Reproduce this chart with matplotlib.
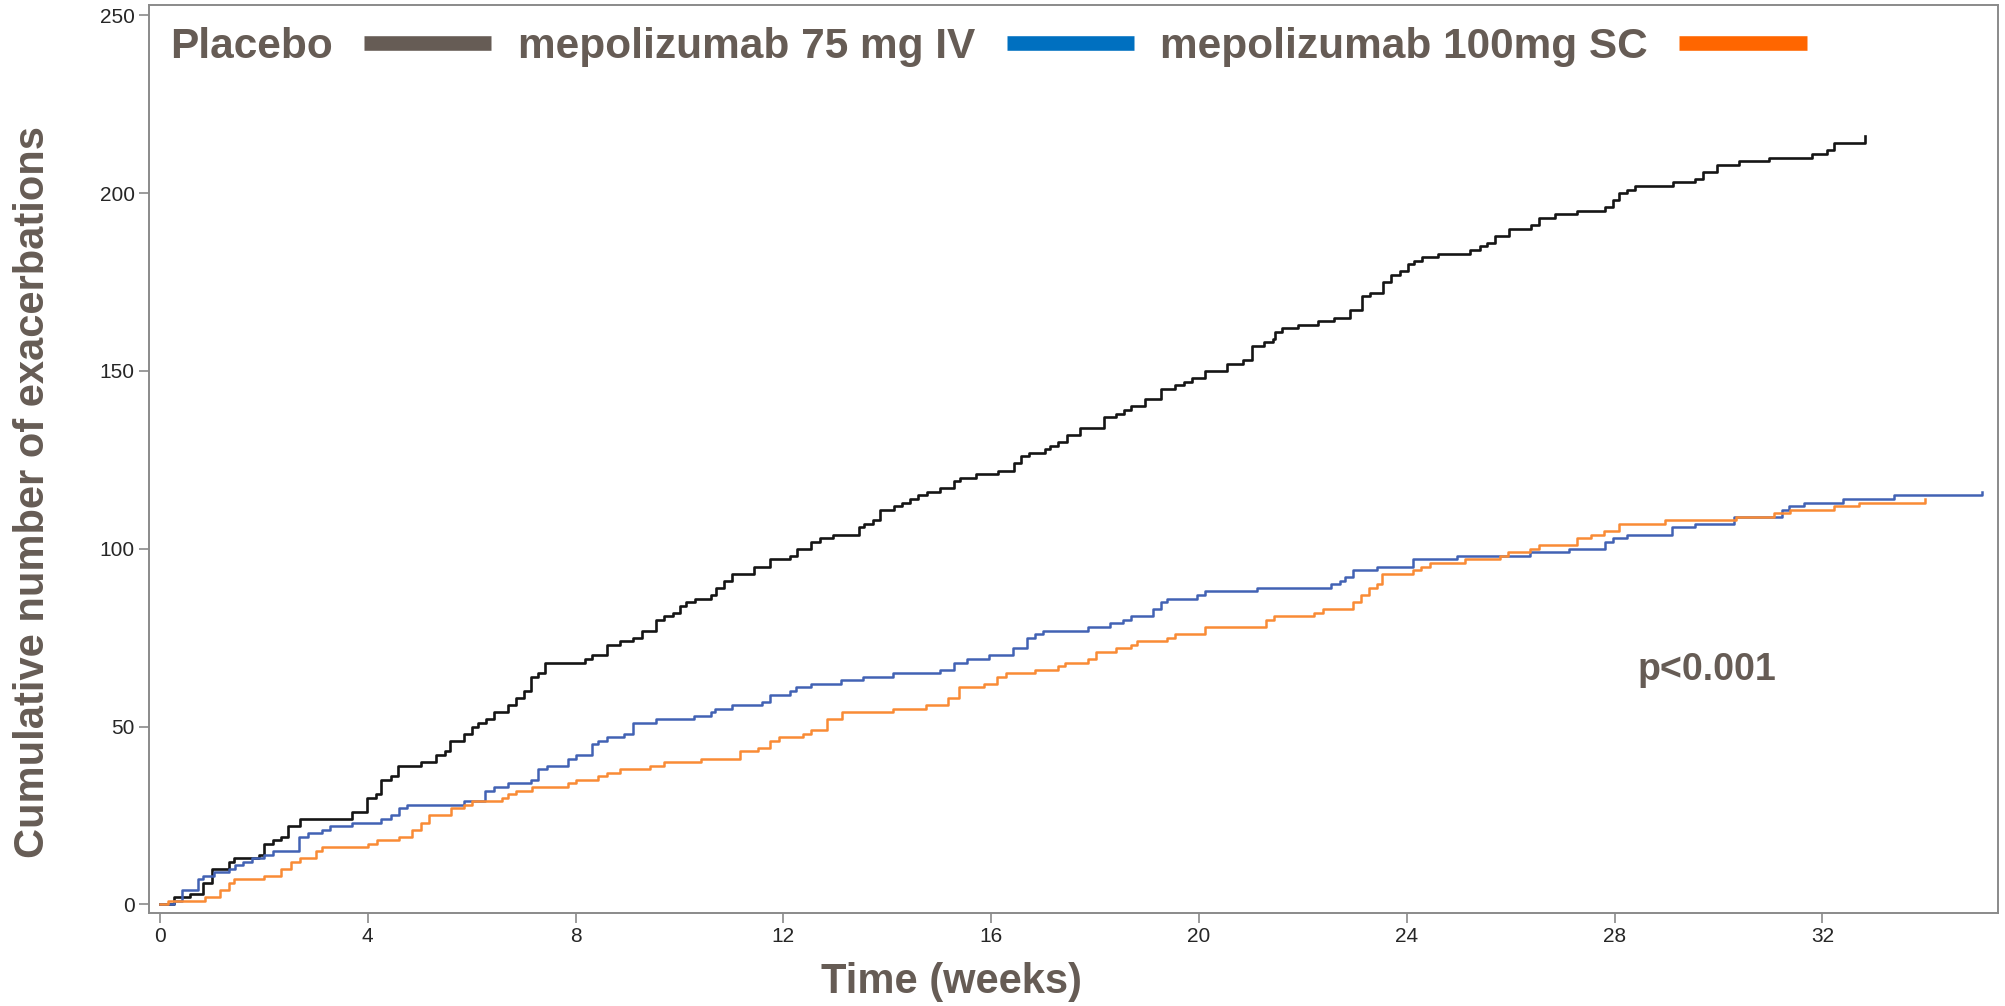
import matplotlib
matplotlib.use("Agg")
import matplotlib.pyplot as plt
from matplotlib.lines import Line2D

plt.rcParams['font.family'] = ['Liberation Sans', 'DejaVu Sans']

#cumulative exacerbations, time in weeks
placebo_weeks = [0, 0.26, 0.57, 0.83, 1.01, 1.33, 1.43, 1.90, 2.01, 2.17,
                 2.32, 2.47, 2.70, 3.69, 3.99, 4.15, 4.26, 4.45, 4.59, 5.02,
                 5.32, 5.48, 5.59, 5.86, 6.01, 6.12, 6.28, 6.43, 6.69, 6.85,
                 7.00, 7.15, 7.27, 7.42, 8.18, 8.32, 8.60, 8.86, 9.11, 9.28,
                 9.55, 9.70, 9.87, 10.01, 10.12, 10.29, 10.60, 10.71, 10.86, 11.01,
                 11.43, 11.74, 12.12, 12.27, 12.54, 12.71, 12.95, 13.45, 13.56, 13.72,
                 13.85, 14.13, 14.29, 14.44, 14.59, 14.77, 15.01, 15.28, 15.39, 15.71,
                 16.14, 16.44, 16.57, 16.72, 17.03, 17.13, 17.28, 17.45, 17.71, 18.17,
                 18.40, 18.55, 18.70, 18.97, 19.27, 19.54, 19.71, 19.87, 20.12, 20.53,
                 20.85, 21.02, 21.25, 21.42, 21.46, 21.59, 21.90, 22.30, 22.60, 22.90,
                 23.13, 23.29, 23.55, 23.70, 23.86, 24.02, 24.13, 24.29, 24.60, 25.22,
                 25.40, 25.54, 25.70, 25.96, 26.39, 26.55, 26.86, 27.28, 27.81, 27.97,
                 28.08, 28.24, 28.40, 29.13, 29.55, 29.70, 29.97, 30.39, 30.97, 31.80,
                 32.08, 32.23, 32.82]
placebo_count = [0, 2, 3, 6, 10, 12, 13, 14, 17, 18,
                 19, 22, 24, 26, 30, 31, 35, 36, 39, 40,
                 42, 43, 46, 48, 50, 51, 52, 54, 56, 58,
                 60, 64, 65, 68, 69, 70, 73, 74, 75, 77,
                 80, 81, 82, 84, 85, 86, 87, 89, 91, 93,
                 95, 97, 98, 100, 102, 103, 104, 106, 107, 108,
                 111, 112, 113, 114, 115, 116, 117, 119, 120, 121,
                 122, 124, 126, 127, 128, 129, 130, 132, 134, 137,
                 138, 139, 140, 142, 145, 146, 147, 148, 150, 152,
                 153, 157, 158, 159, 161, 162, 163, 164, 165, 167,
                 171, 172, 175, 177, 178, 180, 181, 182, 183, 184,
                 185, 186, 188, 190, 191, 193, 194, 195, 196, 198,
                 200, 201, 202, 203, 204, 206, 208, 209, 210, 211,
                 212, 214, 216]

iv_weeks = [0, 0.26, 0.42, 0.74, 0.83, 1.03, 1.33, 1.44, 1.60, 1.77,
            2.01, 2.17, 2.68, 2.85, 3.12, 3.27, 3.69, 4.26, 4.45, 4.60,
            4.75, 5.86, 6.26, 6.43, 6.69, 7.15, 7.27, 7.44, 7.86, 8.01,
            8.32, 8.44, 8.60, 8.94, 9.11, 9.55, 10.27, 10.60, 10.69, 11.01,
            11.59, 11.74, 12.12, 12.25, 12.54, 13.11, 13.54, 14.11, 15.01, 15.28,
            15.54, 15.96, 16.42, 16.68, 16.84, 17.00, 17.86, 18.28, 18.53, 18.70,
            19.12, 19.27, 19.39, 19.96, 20.12, 21.12, 22.54, 22.71, 22.81, 22.96,
            23.43, 24.12, 24.97, 26.38, 27.12, 27.81, 27.97, 28.24, 29.11, 29.55,
            30.29, 31.22, 31.36, 31.64, 32.39, 33.37, 35.08]
iv_count = [0, 1, 4, 7, 8, 9, 10, 11, 12, 13,
            14, 15, 19, 20, 21, 22, 23, 24, 25, 27,
            28, 29, 32, 33, 34, 35, 38, 39, 41, 42,
            45, 46, 47, 48, 51, 52, 53, 54, 55, 56,
            57, 59, 60, 61, 62, 63, 64, 65, 66, 68,
            69, 70, 72, 75, 76, 77, 78, 79, 80, 81,
            83, 85, 86, 87, 88, 89, 90, 91, 92, 94,
            95, 97, 98, 99, 100, 102, 103, 104, 106, 107,
            109, 111, 112, 113, 114, 115, 116]

sc_weeks = [0, 0.15, 0.86, 1.16, 1.33, 1.42, 2.01, 2.32, 2.53, 2.70,
            3.00, 3.12, 4.01, 4.18, 4.60, 4.85, 5.02, 5.17, 5.61, 5.86,
            6.01, 6.58, 6.69, 6.85, 7.17, 7.86, 8.01, 8.44, 8.60, 8.86,
            9.43, 9.70, 10.42, 11.16, 11.52, 11.74, 11.91, 12.38, 12.54, 12.84,
            13.12, 14.11, 14.74, 15.16, 15.38, 15.86, 16.11, 16.29, 16.85, 17.28,
            17.43, 17.86, 18.02, 18.40, 18.70, 18.80, 19.39, 19.54, 20.12, 21.29,
            21.44, 22.22, 22.39, 22.96, 23.11, 23.27, 23.43, 23.53, 24.12, 24.28,
            24.44, 25.13, 25.79, 25.95, 26.38, 26.54, 27.28, 27.55, 27.79, 28.08,
            28.97, 30.33, 31.06, 31.38, 32.23, 32.71, 33.98]
sc_count = [0, 1, 2, 4, 6, 7, 8, 10, 12, 13,
            15, 16, 17, 18, 19, 21, 23, 25, 27, 28,
            29, 30, 31, 32, 33, 34, 35, 36, 37, 38,
            39, 40, 41, 43, 44, 46, 47, 48, 49, 52,
            54, 55, 56, 58, 61, 62, 64, 65, 66, 67,
            68, 69, 71, 72, 73, 74, 75, 76, 78, 80,
            81, 82, 83, 85, 87, 89, 90, 93, 94, 95,
            96, 97, 98, 99, 100, 101, 103, 104, 105, 107,
            108, 109, 110, 111, 112, 113, 114]

#labels
series_names = ["Placebo", "mepolizumab 75 mg IV", "mepolizumab 100mg SC"]
x_ticks = [0, 4, 8, 12, 16, 20, 24, 28, 32]
y_ticks = [0, 50, 100, 150, 200, 250]
p_text = "p<0.001"

text_color = "#665c55"
axis_gray = "#8a8a8a"

fig = plt.figure(figsize=(20.05, 10.06), dpi=100)
ax = fig.add_axes([0.0741, 0.0924, 0.9224, 0.9026])

#step curves
ax.step(placebo_weeks, placebo_count, where="post", color="#151515", lw=1.9)
ax.step(iv_weeks, iv_count, where="post", color="#4262b4", lw=1.8)
ax.step(sc_weeks, sc_count, where="post", color="#f98b35", lw=1.8)

ax.set_xlim(-0.22, 35.38)
ax.set_ylim(-2.45, 252.9)
ax.set_xticks(x_ticks)
ax.set_yticks(y_ticks)

for side in ["left", "right", "top", "bottom"]:
    ax.spines[side].set_color(axis_gray)
    ax.spines[side].set_linewidth(1.4)
ax.tick_params(direction="out", length=7, width=1.2, color=axis_gray,
               labelcolor="#262626", labelsize=15, pad=3)

#axis titles
ax.set_xlabel("Time (weeks)", fontsize=30, fontweight="bold", color=text_color)
ax.xaxis.set_label_coords(0.434, -0.076)
ax.xaxis.label.set_va("center")
ax.set_ylabel("Cumulative number of exacerbations", fontsize=30,
              fontweight="bold", color=text_color)
ax.yaxis.set_label_coords(-0.0625, 0.4637)
ax.yaxis.label.set_va("center")

#legend: label first, then a thick colour bar
handles = [Line2D([], [], color=text_color, lw=10.5, solid_capstyle="butt"),
           Line2D([], [], color="#0070c0", lw=10.5, solid_capstyle="butt"),
           Line2D([], [], color="#ff6600", lw=10.5, solid_capstyle="butt")]
leg = ax.legend(handles, series_names, loc="upper left", ncol=3,
                bbox_to_anchor=(0.0115, 0.976), frameon=False, markerfirst=False,
                handlelength=3.0, handletextpad=0.75, columnspacing=0.62,
                borderpad=0, borderaxespad=0,
                prop={"size": 30.5, "weight": "bold"})
for txt in leg.get_texts():
    txt.set_color(text_color)

ax.text(29.78, 65.8, p_text, fontsize=27, fontweight="bold", color=text_color,
        ha="center", va="center")

fig.savefig("out.png", dpi=100)
